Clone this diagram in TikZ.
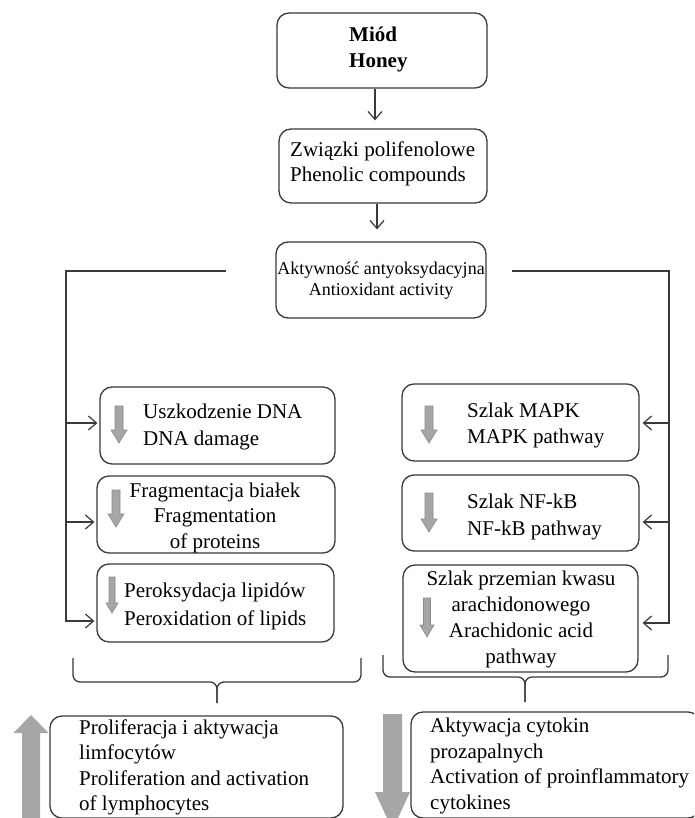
\documentclass[tikz,border=0pt]{standalone}
\usepackage{fontspec}
\setmainfont{Liberation Serif}
\usetikzlibrary{arrows.meta}
\definecolor{lncol}{HTML}{3A3A3A}
\definecolor{gfill}{HTML}{A6A6A6}
\definecolor{gline}{HTML}{8A8A8A}
\newcommand{\garrow}[6]{% x, ytop, ytip, shaft, head, headlen
  \fill[gfill,draw=gline,line width=0.6pt]
    ({#1-#4/2},#2) -- ({#1+#4/2},#2) -- ({#1+#4/2},{#3-#6}) -- ({#1+#5/2},{#3-#6})
    -- (#1,#3) -- ({#1-#5/2},{#3-#6}) -- ({#1-#4/2},{#3-#6}) -- cycle;}
\newcommand{\garrowup}[6]{% x, ybottom, ytip, shaft, head, headlen
  \fill[gfill]
    ({#1-#4/2},#2) -- ({#1+#4/2},#2) -- ({#1+#4/2},{#3+#6}) -- ({#1+#5/2},{#3+#6})
    -- (#1,#3) -- ({#1-#5/2},{#3+#6}) -- ({#1-#4/2},{#3+#6}) -- cycle;}
\tikzset{
  box/.style={draw=lncol, line width=1.3pt, rounded corners=12pt, inner sep=0pt},
  txt/.style={inner sep=0pt, font=\fontsize{21}{25.5}\selectfont},
  stxt/.style={inner sep=0pt, font=\fontsize{18}{21}\selectfont, align=center},
  conn/.style={draw=lncol, line width=1.3pt},
  arr/.style={conn, -{Straight Barb[length=8pt,width=14pt,line width=1.2pt]}},
}
\begin{document}
\begin{tikzpicture}[x=1pt,y=-1pt]
\useasboundingbox (0,0) rectangle (694,818);
\fill[white] (0,0) rectangle (694,818);
\begin{scope}
\clip (0,0) rectangle (694,818);
% boxes
\node[box, minimum width=210pt, minimum height=75pt] (honey) at (382,50.5) {};
\node[box, minimum width=208pt, minimum height=74pt] (phen) at (383,166) {};
\node[box, minimum width=210pt, minimum height=76pt] (anti) at (381,280) {};
\node[box, minimum width=235pt, minimum height=77pt] (dna) at (217.5,425.5) {};
\node[box, minimum width=238pt, minimum height=77pt] (frag) at (216,514.5) {};
\node[box, minimum width=237pt, minimum height=78pt] (lip) at (215.5,603) {};
\node[box, minimum width=237pt, minimum height=77pt] (mapk) at (520.5,422.5) {};
\node[box, minimum width=237pt, minimum height=76pt] (nfkb) at (520.5,513) {};
\node[box, minimum width=235pt, minimum height=107pt] (arach) at (520.5,618.5) {};
\node[box, minimum width=293pt, minimum height=102pt] (lymph) at (196.5,767) {};
\node[box, minimum width=289pt, minimum height=106pt] (cyto) at (555.5,765) {};
% texts
\node[txt, anchor=west, align=left, font=\fontsize{21}{26}\selectfont\bfseries] (thoney) at (349,49) {Miód\\Honey};
\node[txt, anchor=west, align=left] (tphen) at (290,164) {Związki polifenolowe\\Phenolic compounds};
\node[stxt] (tanti) at (381,280.5) {Aktywność antyoksydacyjna\\Antioxidant activity};
\node[txt, anchor=west, align=left, font=\fontsize{21}{27}\selectfont] (tdna) at (143,426.5) {Uszkodzenie DNA\\DNA damage};
\node[txt, align=center] (tfrag) at (215,517.5) {Fragmentacja białek\\Fragmentation\\of proteins};
\node[txt, anchor=west, align=left, font=\fontsize{21}{28}\selectfont] (tlip) at (124,606) {Peroksydacja lipidów\\Peroxidation of lipids};
\node[txt, anchor=west, align=left, font=\fontsize{21}{26}\selectfont] (tmapk) at (467,425) {Szlak MAPK\\MAPK pathway};
\node[txt, anchor=west, align=left, font=\fontsize{21}{27}\selectfont] (tnfkb) at (467,516.5) {Szlak NF-kB\\NF-kB pathway};
\node[txt, align=center, font=\fontsize{21}{26}\selectfont] (tarach) at (521,619.5) {Szlak przemian kwasu\\arachidonowego\\Arachidonic acid\\pathway};
\node[txt, anchor=west, align=left] (tlymph) at (79,767.5) {Proliferacja i aktywacja\\limfocytów\\Proliferation and activation\\of lymphocytes};
\node[txt, anchor=west, align=left] (tcyto) at (430,766) {Aktywacja cytokin\\prozapalnych\\Activation of proinflammatory\\cytokines};
% vertical arrows
\draw[arr] ([xshift=-7pt]honey.south) -- ([xshift=-8pt,yshift=8pt]phen.north);
\draw[arr] ([xshift=-6pt]phen.south) -- ([xshift=-4pt,yshift=12pt]anti.north);
% left bus
\coordinate (lstart) at (226,271);
\coordinate (lbus) at (66,271);
\coordinate (rstart) at (512,271);
\coordinate (rbus) at (669,271);
\draw[arr] (lstart) -- (lbus) |- ([xshift=-2pt]lip.west |- 0,621);
\draw[arr] (lbus |- 0,423) -- ([xshift=-2pt]dna.west |- 0,423);
\draw[arr] (lbus |- 0,522) -- ([xshift=-2pt]frag.west |- 0,522);
\draw[arr] (rstart) -- (rbus) |- ([xshift=4pt]arach.east |- 0,623);
\draw[arr] (rbus |- 0,423) -- ([xshift=3pt]mapk.east |- 0,423);
\draw[arr] (rbus |- 0,522) -- ([xshift=3pt]nfkb.east |- 0,522);
% braces
\draw[conn, rounded corners=7pt] (73,658) -- (73,682) -- (217,682) -- (217,703);
\draw[conn, rounded corners=7pt] (361,658) -- (361,682) -- (217,682) -- (217,703);
\draw[conn, rounded corners=7pt] (383,655) -- (383,677) -- (525,677) -- (525,702);
\draw[conn, rounded corners=7pt] (668,655) -- (668,677) -- (525,677) -- (525,702);
% gray arrows
\garrow{119}{406}{443}{8}{16}{13}
\garrow{116}{490}{527}{8}{16}{13}
\garrow{112}{577}{613}{6}{12}{10}
\garrow{429}{406}{443}{8}{16}{13}
\garrow{429}{493}{532}{8}{16}{13}
\garrow{427}{598}{637}{7}{14}{12}
\garrowup{31}{830}{715}{18}{35}{18}
\fill[gfill] (383,714) -- (402,714) -- (402,792) -- (410,792) -- (392.5,830) -- (375,792) -- (383,792) -- cycle;
\end{scope}
\end{tikzpicture}
\end{document}
